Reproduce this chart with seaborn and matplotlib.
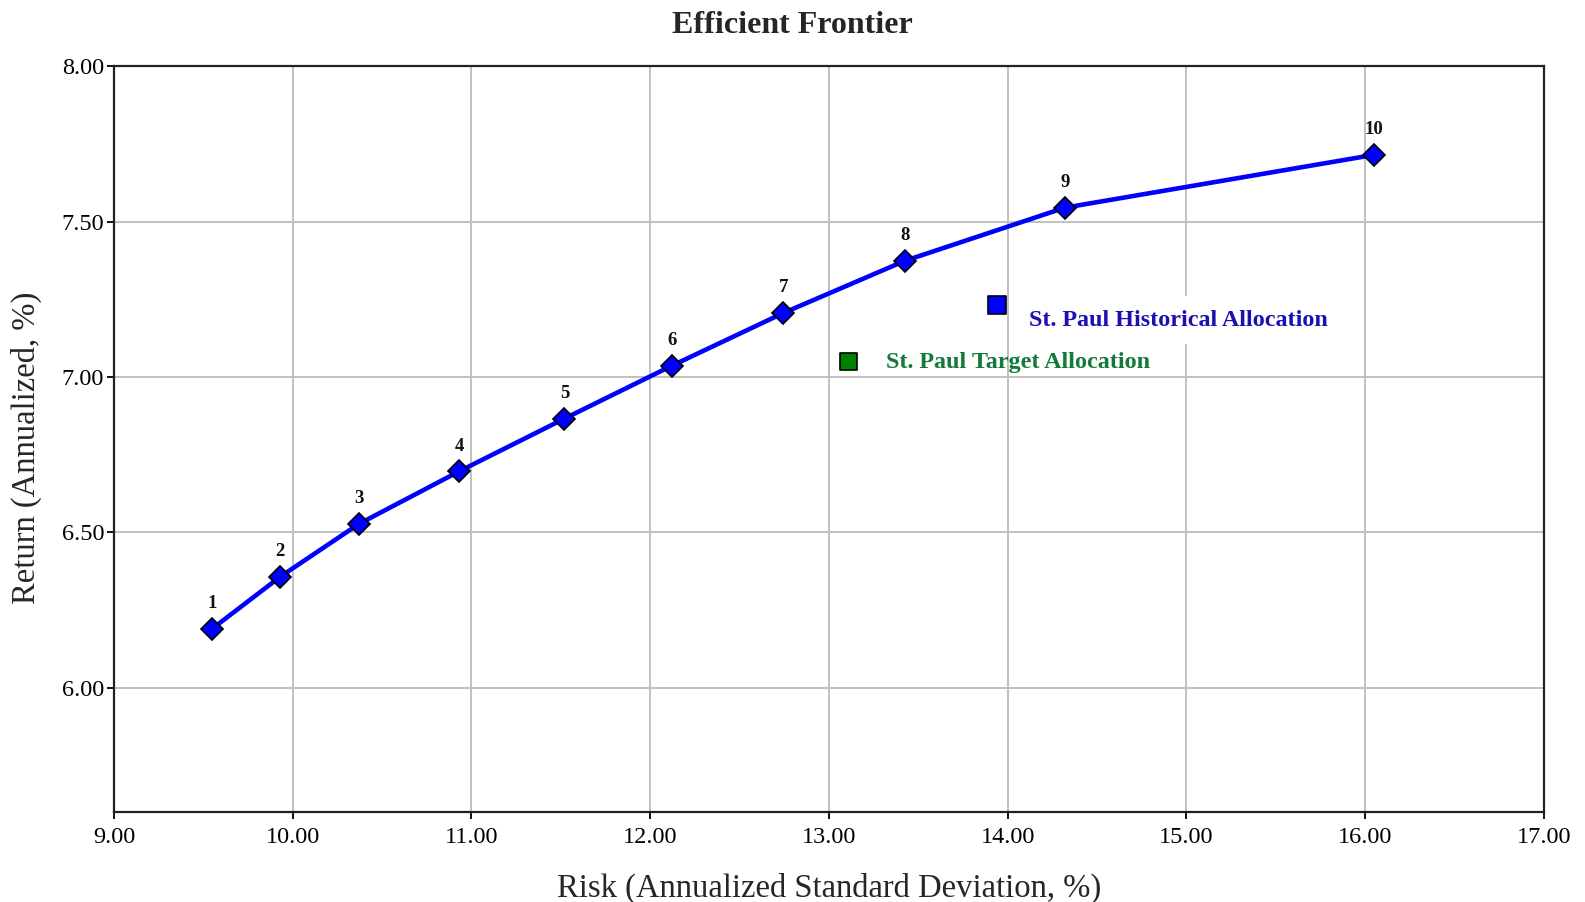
import matplotlib
matplotlib.use("Agg")
import matplotlib.pyplot as plt
import seaborn as sns
import pandas as pd

sns.set_style("white")
plt.rcParams["font.family"] = ["Liberation Serif", "DejaVu Serif"]

# efficient frontier portfolios
portfolio = ["1", "2", "3", "4", "5", "6", "7", "8", "9", "10"]
risk = [9.55, 9.93, 10.37, 10.93, 11.52, 12.12, 12.745, 13.425, 14.32, 16.05]
ret = [6.19, 6.357, 6.527, 6.696, 6.866, 7.036, 7.206, 7.374, 7.545, 7.715]

# allocations
alloc_names = ["St. Paul Historical Allocation", "St. Paul Target Allocation"]
alloc_risk = [13.94, 13.11]
alloc_ret = [7.232, 7.05]
alloc_colors = ["#0000ff", "#008000"]
alloc_text_colors = ["#1c10b4", "#137a3a"]

xticks = [9, 10, 11, 12, 13, 14, 15, 16, 17]
yticks = [6.0, 6.5, 7.0, 7.5, 8.0]

df = pd.DataFrame({"risk": risk, "ret": ret, "label": portfolio})
alloc = pd.DataFrame({"name": alloc_names, "risk": alloc_risk, "ret": alloc_ret})

fig = plt.figure(figsize=(15.85, 9.02), dpi=100)
ax = fig.add_axes([0.0719, 0.0998, 0.9022, 0.8267])

sns.lineplot(data=df, x="risk", y="ret", ax=ax, color="#0000ff", lw=3.3,
             marker="D", markersize=11, markerfacecolor="#0000ff",
             markeredgecolor="black", markeredgewidth=1.2, sort=False, zorder=4)

for _, r in df.iterrows():
    ax.annotate(r["label"], (r["risk"], r["ret"]), xytext=(0, 18),
                textcoords="offset points", ha="center", va="center",
                fontsize=13.5, fontweight="bold", color="#111111", zorder=5)

sns.scatterplot(data=alloc, x="risk", y="ret", hue="name", palette=alloc_colors,
                marker="s", s=160, edgecolor="black", linewidth=1.2,
                legend=False, ax=ax, zorder=6)

offsets = [(23, -11), (27, -1)]
for i, r in alloc.iterrows():
    ax.annotate(r["name"], (r["risk"], r["ret"]), xytext=offsets[i],
                textcoords="offset points", ha="left", va="center",
                fontsize=17.4, fontweight="bold", color=alloc_text_colors[i],
                zorder=5,
                bbox=dict(boxstyle="square,pad=0.55", fc="white", ec="none") if i == 0 else None)

ax.set_xlim(9, 17)
ax.set_ylim(5.6, 8.0)
ax.set_xticks(xticks)
ax.set_yticks(yticks)
ax.set_xticklabels([f"{v:.2f}" for v in xticks])
ax.set_yticklabels([f"{v:.2f}" for v in yticks])
ax.tick_params(axis="both", direction="out", length=5, width=1.3,
               labelsize=17.5, colors="black")
ax.tick_params(axis="x", pad=6)
ax.tick_params(axis="y", pad=2)
ax.tick_params(axis="both", bottom=True, left=True)
ax.grid(True, color="#c0c0c0", lw=1.4)
ax.set_axisbelow(True)
for s in ax.spines.values():
    s.set_color("#222222")
    s.set_linewidth(1.6)

ax.set_xlabel("Risk (Annualized Standard Deviation, %)", fontsize=23.5, labelpad=18)
ax.set_ylabel("Return (Annualized, %)", fontsize=23.5)
ax.yaxis.set_label_coords(-0.05, 0.488)
fig.text(0.5, 0.972, "Efficient Frontier", ha="center", va="center",
         fontsize=23, fontweight="bold")

fig.savefig("out.png", dpi=100)
